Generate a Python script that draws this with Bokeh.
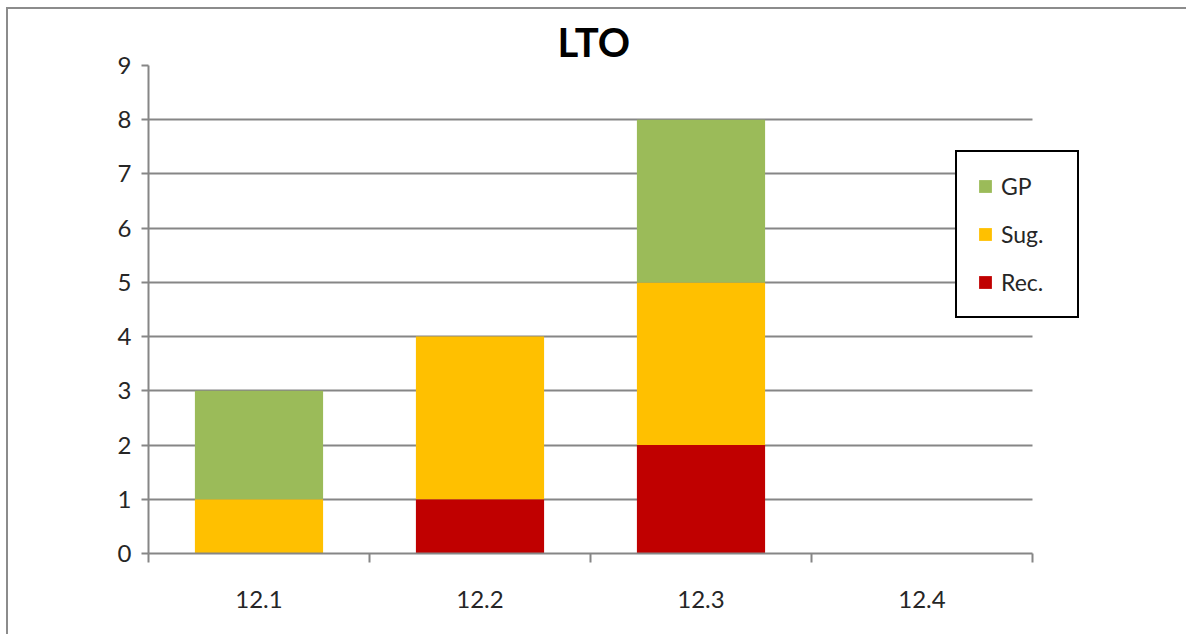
from bokeh.plotting import figure
from bokeh.models import ColumnDataSource, FixedTicker, Range1d, Legend, LegendItem
from bokeh.embed import file_html
from bokeh.resources import INLINE

categories = ["12.1", "12.2", "12.3", "12.4"]
rec = [0, 1, 2, 0]
sug = [1, 3, 3, 0]
gp = [2, 0, 3, 0]
series_names = ["Rec.", "Sug.", "GP"]
colors = ["#C00000", "#FFC000", "#9BBB59"]
y_ticks = [0, 1, 2, 3, 4, 5, 6, 7, 8, 9]

FONT = "Lato"
GRAY = "#868686"

n = len(categories)
xpos = [i + 0.5 for i in range(n)]
src = ColumnDataSource(dict(x=xpos, rec=rec, sug=sug, gp=gp))

# frame extended slightly to the right so the legend (which overlaps the plot's right edge) is not clipped
unit_px = 221
extra_px = 48
p = figure(width=1186, height=634, output_backend="svg", toolbar_location=None,
           x_range=Range1d(0, n + extra_px / unit_px), y_range=Range1d(0, 9),
           frame_width=n * unit_px + extra_px, frame_height=488,
           min_border_left=140, min_border_top=56, min_border_right=106, min_border_bottom=81)
p.styles = {"margin-left": "6px", "margin-top": "7px",
            "border-left": "2px solid #8c8c8c", "border-top": "2px solid #8c8c8c"}

rs = p.vbar_stack(["rec", "sug", "gp"], x="x", width=0.58, color=colors, source=src, line_width=0)

p.title.text = "LTO"
p.title.align = "left"
p.title.text_font = FONT
p.title.text_font_size = "40px"
p.title.text_font_style = "bold"
p.title.text_color = "#000000"
p.title.standoff = 0
p.title.offset = 409

p.outline_line_color = None
p.background_fill_color = "white"
p.border_fill_color = "white"

# x axis
xa = p.xaxis[0]
xa.bounds = (0, n)
xa.ticker = FixedTicker(ticks=xpos, minor_ticks=list(range(n + 1)))
xa.major_label_overrides = {x: c for x, c in zip(xpos, categories)}
xa.major_tick_line_color = None
xa.major_tick_out = 0
xa.major_tick_in = 0
xa.minor_tick_out = 9
xa.minor_tick_in = 0
xa.minor_tick_line_color = GRAY
xa.minor_tick_line_width = 2
xa.axis_line_color = GRAY
xa.axis_line_width = 2
xa.major_label_text_font = FONT
xa.major_label_text_font_size = "24px"
xa.major_label_text_color = "#262626"
xa.major_label_standoff = 28

# y axis
ya = p.yaxis[0]
ya.ticker = FixedTicker(ticks=y_ticks)
ya.minor_tick_line_color = None
ya.major_tick_out = 7
ya.major_tick_in = 0
ya.major_tick_line_color = GRAY
ya.major_tick_line_width = 2
ya.axis_line_color = GRAY
ya.axis_line_width = 2
ya.major_label_text_font = FONT
ya.major_label_text_font_size = "24px"
ya.major_label_text_color = "#262626"
ya.major_label_standoff = 10

p.xgrid.grid_line_color = None
p.ygrid.ticker = FixedTicker(ticks=y_ticks)
p.ygrid.grid_line_color = GRAY
p.ygrid.grid_line_width = 2
p.ygrid.cross_bounds = (0, n)

items = [LegendItem(label=s, renderers=[r]) for s, r in zip(series_names, rs)][::-1]
legend = Legend(items=items, location=(807, 235), orientation="vertical")
legend.border_line_color = "black"
legend.border_line_width = 2
legend.border_line_alpha = 1
legend.background_fill_color = "white"
legend.background_fill_alpha = 1
legend.label_text_font = FONT
legend.label_text_font_size = "23px"
legend.label_text_color = "#262626"
legend.glyph_width = 16
legend.glyph_height = 16
legend.label_height = 20
legend.label_width = 56
legend.label_standoff = 8
legend.spacing = 20
legend.padding = 20
legend.margin = 0
p.add_layout(legend, "center")

open("out.html", "w").write(file_html(p, INLINE))
